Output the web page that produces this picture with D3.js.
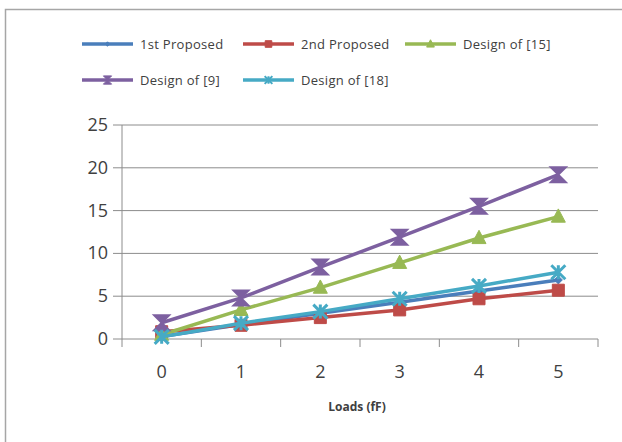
<!DOCTYPE html>
<html>
<head>
<meta charset="utf-8">
<script src="https://cdn.jsdelivr.net/npm/d3@7"></script>
<style>
  body { margin: 0; background: #fff; }
  svg { display: block; }
  text { font-family: "Open Sans", "Liberation Sans", sans-serif; fill: #404040; }
</style>
</head>
<body>
<svg width="622" height="442"></svg>
<script>
  const loads = [0, 1, 2, 3, 4, 5];
  const yTicks = [0, 5, 10, 15, 20, 25];

  const firstProposed = [0.3, 1.7, 3.0, 4.3, 5.6, 6.9];
  const secondProposed = [0.85, 1.6, 2.5, 3.4, 4.7, 5.7];
  const design15 = [0.5, 3.4, 6.0, 8.9, 11.8, 14.3];
  const design9 = [1.9, 4.8, 8.4, 11.9, 15.5, 19.2];
  const design18 = [0.25, 1.85, 3.2, 4.7, 6.2, 7.8];

  const seriesNames = ['1st Proposed', '2nd Proposed', 'Design of [15]', 'Design of [9]', 'Design of [18]'];
  const seriesValues = [firstProposed, secondProposed, design15, design9, design18];
  const colors = ['#4a7ebb', '#be4b48', '#98b954', '#7d60a0', '#46aac5'];
  const markers = ['diamond', 'square', 'triangle', 'hourglass', 'star'];

  const svg = d3.select('svg');

  // outer chart border (runs off the right and bottom edges)
  svg.append('path')
    .attr('d', 'M5.5,442V9.5H622')
    .attr('fill', 'none')
    .attr('stroke', '#a6a6a6')
    .attr('stroke-width', 1.5);

  const margin = { top: 125, left: 122 };
  const innerWidth = 476;
  const innerHeight = 214;

  const xScale = d3.scaleBand()
    .domain(loads)
    .range([0, innerWidth]);

  const yScale = d3.scaleLinear()
    .domain([0, 25])
    .range([innerHeight, 0]);

  const g = svg.append('g')
    .attr('transform', `translate(${margin.left},${margin.top})`);

  // gridlines
  g.selectAll('.grid').data(yTicks)
    .enter().append('line')
      .attr('x1', -9).attr('x2', innerWidth)
      .attr('y1', d => yScale(d)).attr('y2', d => yScale(d))
      .attr('stroke', '#8c8c8c');

  g.append('line')
    .attr('x1', 0).attr('x2', 0)
    .attr('y1', 0).attr('y2', innerHeight)
    .attr('stroke', '#8c8c8c');

  // category boundary ticks
  const bounds = loads.map(d => xScale(d)).concat([innerWidth]);
  g.selectAll('.bound').data(bounds)
    .enter().append('line')
      .attr('x1', d => d).attr('x2', d => d)
      .attr('y1', innerHeight).attr('y2', innerHeight + 8)
      .attr('stroke', '#8c8c8c');

  g.selectAll('.ylabel').data(yTicks)
    .enter().append('text')
      .attr('x', -14)
      .attr('y', d => yScale(d) + 6)
      .attr('text-anchor', 'end')
      .attr('font-size', 18)
      .text(d => d);

  const xPos = d => xScale(d) + xScale.bandwidth() / 2;

  g.selectAll('.xlabel').data(loads)
    .enter().append('text')
      .attr('x', xPos)
      .attr('y', innerHeight + 39)
      .attr('text-anchor', 'middle')
      .attr('font-size', 18)
      .text(d => d);

  g.append('text')
    .attr('x', innerWidth / 2 - 3)
    .attr('y', innerHeight + 72)
    .attr('text-anchor', 'middle')
    .attr('font-size', 12)
    .attr('font-weight', 'bold')
    .attr('fill', '#202020')
    .text('Loads (fF)');

  const line = d3.line()
    .x((v, i) => xPos(loads[i]))
    .y(v => yScale(v));

  const markerPath = (type, s) => {
    if (type === 'diamond') return `M0,${-s}L${s},0L0,${s}L${-s},0Z`;
    if (type === 'square') return `M${-s},${-s}H${s}V${s}H${-s}Z`;
    if (type === 'triangle') return `M0,${-s * 1.1}L${s},${s * 0.8}L${-s},${s * 0.8}Z`;
    if (type === 'hourglass') return `M${-s},${-s}H${s}L${-s},${s}H${s}Z`;
    return `M${-s},${-s}L${s},${s}M${s},${-s}L${-s},${s}M0,${-s}V${s}`;
  };

  const markerSize = [4, 6, 7, 7.5, 7];

  seriesValues.forEach((values, si) => {
    g.append('path')
      .datum(values)
      .attr('d', line)
      .attr('fill', 'none')
      .attr('stroke', colors[si])
      .attr('stroke-width', 3.5)
      .attr('stroke-linejoin', 'round');

    g.selectAll(null).data(values)
      .enter().append('path')
        .attr('transform', (v, i) => `translate(${xPos(loads[i])},${yScale(v)})`)
        .attr('d', markerPath(markers[si], markerSize[si]))
        .attr('fill', markers[si] === 'star' ? 'none' : colors[si])
        .attr('stroke', colors[si])
        .attr('stroke-width', markers[si] === 'star' ? 3 : (markers[si] === 'hourglass' ? 2 : 1));
  });

  // legend
  const legendPos = [
    { x: 82, y: 44 },
    { x: 243, y: 44 },
    { x: 405, y: 44 },
    { x: 82, y: 80 },
    { x: 243, y: 80 }
  ];

  const legend = svg.append('g');
  seriesNames.forEach((name, si) => {
    const p = legendPos[si];
    const item = legend.append('g').attr('transform', `translate(${p.x},${p.y})`);
    item.append('line')
      .attr('x1', 0).attr('x2', 51)
      .attr('stroke', colors[si])
      .attr('stroke-width', 3.5);
    item.append('path')
      .attr('transform', 'translate(25.5,0)')
      .attr('d', markerPath(markers[si], markerSize[si] * 0.55))
      .attr('fill', markers[si] === 'star' ? 'none' : colors[si])
      .attr('stroke', colors[si])
      .attr('stroke-width', markers[si] === 'star' ? 2 : 1);
    item.append('text')
      .attr('x', 58)
      .attr('y', 4.5)
      .attr('font-size', 13)
      .attr('letter-spacing', 0.3)
      .text(name);
  });
</script>
</body>
</html>
